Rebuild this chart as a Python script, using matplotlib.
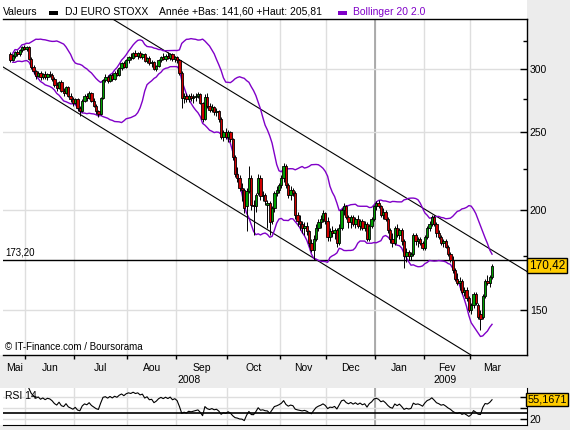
import numpy as np
import pandas as pd
import matplotlib
matplotlib.use('Agg')
import matplotlib.pyplot as plt
from matplotlib.patches import Rectangle
from matplotlib.ticker import FixedLocator, NullFormatter
import matplotlib.transforms as mtrans

plt.rcParams['font.family'] = ['Liberation Sans', 'DejaVu Sans']

# trading days 22 May 2008 -> 13 Mar 2009 (Euro Stoxx closed 25/26 Dec, 1 Jan)
holidays = ['2008-12-25', '2008-12-26', '2009-01-01']

opens = [313, 308, 312, 315, 313, 317, 320, 318, 320, 309,
         302, 298, 294, 297, 293, 296, 293, 296, 295, 292,
         287, 284, 289, 282, 280, 285, 278, 275, 272, 275,
         268, 266, 274, 278, 276, 280, 274, 270, 266, 264,
         276, 291, 293, 290, 295, 292, 297, 295, 301, 305,
         302, 308, 311, 310, 314, 312, 314, 311, 313, 307,
         310, 305, 306, 300, 303, 308, 311, 309, 312, 310,
         313, 309, 311, 308, 297, 276, 278, 275, 278, 276,
         277, 278, 279, 272, 260, 277, 270, 267, 269, 265,
         266, 260, 247, 250, 247, 250, 245, 233, 222, 219,
         213, 212, 202, 211, 219, 203, 202, 210, 219, 208,
         209, 203, 204, 194, 201, 210, 212, 215, 219, 227,
         215, 209, 212, 210, 197, 194, 192, 190, 191, 188,
         182, 178, 184, 190, 193, 195, 198, 194, 185, 188,
         187, 189, 182, 190, 200, 202, 196, 193, 196, 192,
         195, 191, 194, 190, 192, 184, 191, 195, 202, 204,
         202, 197, 199, 195, 189, 184, 182, 190, 186, 189,
         183, 175, 177, 175, 176, 186, 183, 184, 182, 179,
         185, 190, 192, 196, 192, 187, 185, 182, 183, 180,
         176, 173, 168, 164, 162, 163, 158, 159, 155, 150,
         152, 157, 152, 148, 147, 156, 163, 162, 165]

highs = [315, 313, 316, 317, 318, 321, 322, 321, 321, 311,
         304, 299, 298, 298, 297, 298, 297, 298, 297, 293,
         289, 290, 291, 284, 286, 286, 280, 277, 276, 276,
         270, 275, 279, 280, 282, 281, 276, 271, 267, 277,
         292, 296, 295, 296, 297, 298, 300, 302, 306, 307,
         309, 312, 314, 315, 317, 315, 316, 314, 314, 311,
         312, 308, 307, 304, 309, 312, 314, 313, 315, 314,
         314, 312, 312, 309, 298, 280, 280, 279, 280, 279,
         280, 281, 280, 273, 279, 280, 272, 271, 270, 268,
         267, 261, 252, 253, 252, 251, 246, 234, 226, 221,
         216, 213, 213, 227, 221, 206, 210, 222, 221, 211,
         210, 206, 205, 202, 211, 214, 216, 221, 229, 228,
         216, 214, 213, 211, 199, 197, 194, 193, 193, 189,
         184, 186, 192, 195, 197, 200, 199, 196, 190, 191,
         190, 190, 192, 201, 204, 203, 197, 197, 197, 196,
         197, 195, 195, 194, 193, 192, 196, 203, 205, 205.81,
         203, 201, 200, 196, 190, 187, 191, 192, 190, 190,
         184, 179, 178, 177, 187, 187, 185, 185, 183, 186,
         191, 194, 197, 197, 193, 189, 186, 184, 184, 181,
         177, 175, 169, 167, 165, 164, 160, 160, 156, 153,
         158, 158, 153, 150, 157, 164, 166, 166, 171]

lows = [306, 307, 310, 312, 312, 315, 317, 316, 308, 300,
        296, 292, 293, 291, 292, 292, 291, 293, 290, 285,
        282, 283, 281, 278, 279, 277, 273, 270, 271, 266,
        262, 265, 273, 274, 275, 273, 269, 264, 261, 263,
        275, 289, 288, 289, 290, 291, 294, 294, 299, 301,
        301, 305, 308, 309, 311, 309, 310, 309, 306, 305,
        304, 302, 299, 298, 302, 306, 308, 307, 309, 308,
        307, 306, 305, 295, 268, 272, 273, 273, 274, 272,
        274, 276, 271, 258, 259, 268, 265, 265, 263, 262,
        258, 245, 244, 245, 243, 243, 231, 220, 217, 211,
        205, 198, 188, 210, 200, 186, 199, 209, 206, 205,
        203, 190, 186, 192, 199, 208, 210, 213, 217, 213,
        207, 206, 208, 195, 191, 189, 187, 186, 186, 180,
        177, 173, 183, 188, 190, 193, 192, 183, 183, 185,
        184, 180, 181, 189, 197, 195, 190, 190, 191, 190,
        190, 189, 189, 188, 183, 183, 190, 194, 200, 201,
        196, 195, 194, 187, 182, 180, 181, 185, 184, 181,
        169, 172, 173, 173, 175, 181, 180, 181, 178, 178,
        184, 188, 191, 191, 185, 184, 181, 180, 179, 175,
        172, 167, 163, 161, 159, 157, 156, 154, 149, 148,
        151, 152, 146, 141.6, 146, 155, 161, 160, 164]

closes = [308, 312, 315, 313, 317, 320, 318, 320, 309, 302,
          298, 294, 297, 293, 296, 293, 296, 295, 292, 287,
          284, 289, 282, 280, 285, 278, 275, 272, 275, 268,
          266, 274, 278, 276, 280, 274, 270, 266, 264, 276,
          291, 293, 290, 295, 292, 297, 295, 301, 305, 302,
          308, 311, 310, 314, 312, 314, 311, 313, 307, 310,
          305, 306, 300, 303, 308, 311, 309, 312, 310, 313,
          309, 311, 308, 297, 276, 278, 275, 278, 276, 277,
          278, 279, 272, 260, 277, 270, 267, 269, 265, 266,
          260, 247, 250, 247, 250, 245, 233, 222, 219, 213,
          212, 201, 211, 219, 203, 202, 209, 219, 208, 209,
          205, 204, 193, 201, 210, 212, 215, 219, 227, 215,
          209, 212, 210, 197, 194, 192, 190, 191, 188, 182,
          178, 184, 190, 193, 195, 198, 194, 185, 188, 187,
          189, 182, 190, 200, 202, 196, 193, 196, 192, 195,
          191, 194, 190, 192, 184, 191, 195, 202, 204, 202,
          197, 199, 195, 189, 184, 182, 190, 186, 189, 183,
          175, 177, 175, 176, 186, 183, 184, 182, 179, 185,
          190, 192, 196, 192, 187, 185, 182, 183, 180, 176,
          173, 168, 164, 162, 163, 158, 159, 155, 150, 152,
          157, 153, 147, 146, 156, 163, 162, 165, 170.42]

month_names = {5: 'Mai', 6: 'Jun', 7: 'Jul', 8: 'Aou', 9: 'Sep', 10: 'Oct',
               11: 'Nov', 12: 'Dec', 1: 'Jan', 2: 'Fev', 3: 'Mar'}

# trend channel (index, price) anchors and reference level
upper_line_x = [44.7, 223.1]
upper_line_y = [345.8, 167.5]
lower_line_x = [-3.2, 198.9]
lower_line_y = [301.9, 131.7]
ref_level = 173.20
rsi_last = 55.1671
year_low, year_high = 141.60, 205.81

dates = pd.bdate_range('2008-05-22', '2009-03-13')
dates = dates[~dates.isin(pd.to_datetime(holidays))]
n = len(dates)
x = np.arange(n)
o = np.array(opens, float)
h = np.array(highs, float)
l = np.array(lows, float)
c = np.array(closes, float)

s = pd.Series(c)
mid = s.rolling(20, min_periods=1).mean()
sd = s.rolling(20, min_periods=2).std(ddof=0)
boll_up = mid + 2 * sd
boll_dn = mid - 2 * sd

delta = s.diff()
gain = delta.clip(lower=0).ewm(alpha=1/14, adjust=False).mean()
loss = (-delta.clip(upper=0)).ewm(alpha=1/14, adjust=False).mean()
rsi = 100 - 100 / (1 + gain / loss)

mon = dates.month.values
starts = np.flatnonzero(np.r_[True, mon[1:] != mon[:-1]])
bounds = starts[1:] - 0.5
jan_bound = bounds[list(mon[starts[1:]]).index(1)]

XL = (-3.2, 223.1)
edges = [XL[0]] + list(bounds) + [bounds[-1] + 19]
label_pos = [(edges[i] + edges[i + 1]) / 2 for i in range(len(edges) - 1)]
label_txt = [month_names[m] for m in mon[starts]]

W, H = 570, 430
fig = plt.figure(figsize=(5.7, 4.3), dpi=100, facecolor='#ECECEC')

def fx(px):
    return px / W

def fy(py):
    return 1 - py / H

# white panels (behind the axes)
fig.patches.append(Rectangle((0, fy(355)), fx(527), 355 / H, transform=fig.transFigure,
                             facecolor='white', edgecolor='none', zorder=-5))
fig.patches.append(Rectangle((0, fy(425)), fx(527), 37 / H, transform=fig.transFigure,
                             facecolor='white', edgecolor='none', zorder=-5))

ax = fig.add_axes([fx(3), fy(355), fx(524), 336 / H])
ax.patch.set_alpha(0)
ax.set_yscale('log')
ax.set_xlim(*XL)
ax.set_ylim(131.7, 346.6)

# grid
for b in bounds:
    ax.axvline(b, color='#DEDEDE', lw=1, zorder=0)
ax.axvline(jan_bound, color='#A0A0A0', lw=1.2, zorder=0)
for v in [150, 200, 250, 300]:
    ax.axhline(v, color='#DEDEDE', lw=1, zorder=0)

# channel lines + level
ax.plot(upper_line_x, upper_line_y, color='black', lw=0.8, zorder=1)
ax.plot(lower_line_x, lower_line_y, color='black', lw=0.8, zorder=1)
ax.axhline(ref_level, color='black', lw=1, zorder=1)

# bollinger
ax.plot(x, boll_up, color='#8000C8', lw=1, zorder=2)
ax.plot(x, boll_dn, color='#8000C8', lw=1, zorder=2)

# candles
cols = np.where(c >= o, '#00A000', '#D00000')
ax.vlines(x, l, h, color='black', lw=0.7, zorder=3)
ax.bar(x, np.abs(c - o), bottom=np.minimum(o, c), width=1.0, color=cols,
       edgecolor='black', linewidth=0.6, zorder=4)

ax.spines['left'].set_visible(False)
for sp in ['top', 'right', 'bottom']:
    ax.spines[sp].set_linewidth(1)

ax.yaxis.tick_right()
ax.yaxis.set_major_locator(FixedLocator([150, 200, 250, 300]))
ax.yaxis.set_minor_locator(FixedLocator([175, 225, 275, 325]))
ax.yaxis.set_minor_formatter(NullFormatter())
ax.set_yticklabels(['150', '200', '250', '300'])
ax.tick_params(axis='y', which='major', direction='in', length=5, width=1, pad=2, labelsize=7.5)
ax.tick_params(axis='y', which='minor', direction='in', length=3, width=1)

ax.set_xticks(bounds)
ax.set_xticklabels([])
ax.set_xticks(label_pos, minor=True)
ax.set_xticklabels(label_txt, minor=True)
ax.tick_params(axis='x', which='major', direction='out', length=3, width=1)
ax.tick_params(axis='x', which='minor', length=0, pad=6, labelsize=7.5)

tb = mtrans.blended_transform_factory(ax.transData, fig.transFigure)
ax.text((XL[0] + jan_bound) / 2, fy(380), '2008', transform=tb, ha='center', va='center', fontsize=7.5)
ax.text((jan_bound + edges[-1]) / 2, fy(380), '2009', transform=tb, ha='center', va='center', fontsize=7.5)

ty = mtrans.blended_transform_factory(ax.transAxes, ax.transData)
ax.text(0.004, ref_level * 1.008, '173,20', transform=ty, fontsize=7, va='bottom')
ax.text(1.004, c[-1], '170,42', transform=ty, fontsize=8.5, va='center', ha='left',
        bbox=dict(boxstyle='square,pad=0.15', facecolor='#FFCC00', edgecolor='black', lw=1),
        clip_on=False)
ax.text(0.004, 0.025, '\u00a9 IT-Finance.com / Boursorama', transform=ax.transAxes, fontsize=7, va='center')

# RSI panel
ax2 = fig.add_axes([fx(3), fy(425), fx(524), 37 / H])
ax2.patch.set_alpha(0)
ax2.set_xlim(*XL)
ax2.set_ylim(9, 76)
for b in bounds:
    ax2.axvline(b, color='#DEDEDE', lw=1, zorder=0)
ax2.axvline(jan_bound, color='#A0A0A0', lw=1.2, zorder=0)
for v in [20, 40, 60]:
    ax2.axhline(v, color='#DEDEDE', lw=1, zorder=0)
ax2.axhline(30, color='black', lw=1.2, zorder=1)
ax2.plot(x, rsi, color='black', lw=0.8, zorder=2)
ax2.spines['left'].set_visible(False)
ax2.spines['top'].set_visible(False)
ax2.set_xticks([])
ax2.yaxis.tick_right()
ax2.set_yticks([20, 40, 60])
ax2.set_yticklabels(['20', '', ''])
ax2.tick_params(axis='y', direction='in', length=5, width=1, pad=2, labelsize=7.5)
ax2.text(0.004, 0.78, 'RSI 14', transform=ax2.transAxes, fontsize=7.5, va='center')
ty2 = mtrans.blended_transform_factory(ax2.transAxes, ax2.transData)
ax2.text(1.001, rsi_last, ('%.4f' % rsi_last).replace('.', ','), transform=ty2, fontsize=7.8,
         va='center', ha='left',
         bbox=dict(boxstyle='square,pad=0.12', facecolor='#FFCC00', edgecolor='black', lw=1),
         clip_on=False)

# header
fig.text(fx(3), fy(12), 'Valeurs', fontsize=7.5, va='center')
fig.patches.append(Rectangle((fx(49), fy(14.5)), fx(9), 3 / H, transform=fig.transFigure,
                             facecolor='black', edgecolor='none'))
fig.text(fx(65), fy(12), 'DJ EURO STOXX', fontsize=7.5, va='center')
fig.text(fx(159), fy(12), 'Ann\u00e9e +Bas: %s +Haut: %s' % (('%.2f' % year_low).replace('.', ','),
                                                          ('%.2f' % year_high).replace('.', ',')),
         fontsize=7.5, va='center')
fig.patches.append(Rectangle((fx(338), fy(14.5)), fx(9), 3 / H, transform=fig.transFigure,
                             facecolor='#8000C8', edgecolor='none'))
fig.text(fx(353), fy(12), 'Bollinger 20 2.0', fontsize=7.5, va='center', color='#8000C8')

fig.savefig('out.png', dpi=100, facecolor=fig.get_facecolor())
